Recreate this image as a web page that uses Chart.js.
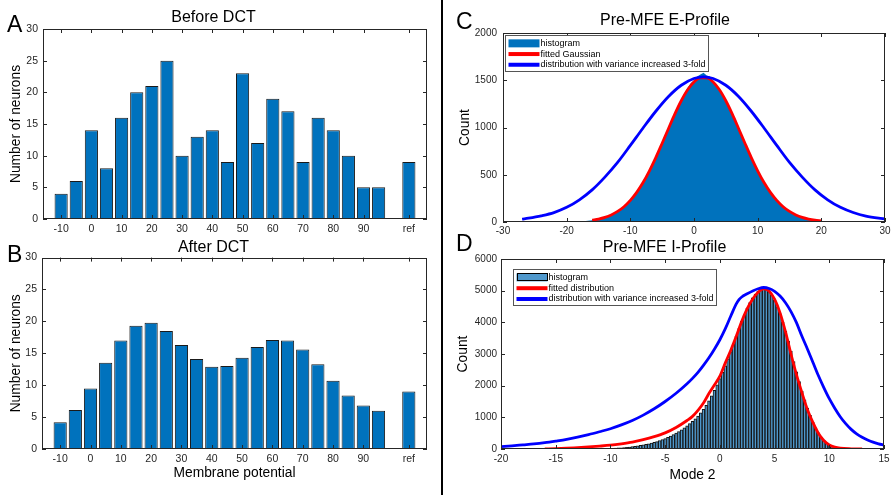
<!DOCTYPE html>
<html>
<head>
<meta charset="utf-8">
<title>Membrane potential and Pre-MFE profiles</title>
<script src="https://cdn.jsdelivr.net/npm/chart.js@4.4.1/dist/chart.umd.min.js"></script>
<style>
  html, body { margin: 0; padding: 0; background: #fff; }
  #figure { position: relative; width: 891px; height: 495px; overflow: hidden; background: #fff; font-family: "Liberation Sans", Arial, sans-serif; }
  #figure canvas { position: absolute; }
  .panel-letter { position: absolute; font-size: 23px; line-height: 1; color: #000; }
  #divider { position: absolute; left: 441px; top: 0; width: 2px; height: 495px; background: #000; }
</style>
</head>
<body>
<div id="figure">
  <canvas id="chart-before" width="440" height="242" style="left:0;top:0"></canvas>
  <canvas id="chart-after" width="440" height="259" style="left:0;top:236px"></canvas>
  <canvas id="chart-eprofile" width="446" height="245" style="left:445px;top:0"></canvas>
  <canvas id="chart-iprofile" width="446" height="259" style="left:445px;top:236px"></canvas>
  <div id="divider"></div>
  <div class="panel-letter" style="left:7px;top:13px">A</div>
  <div class="panel-letter" style="left:7px;top:243px">B</div>
  <div class="panel-letter" style="left:456px;top:10px">C</div>
  <div class="panel-letter" style="left:456px;top:232px">D</div>
</div>
<script>
// A / B: neurons per membrane-potential bin (last bin is "ref")
const membraneBins = [-10, -5, 0, 5, 10, 15, 20, 25, 30, 35, 40, 45, 50, 55, 60, 65, 70, 75, 80, 85, 90, 95, 100, 105];
const beforeCounts = [4, 6, 14, 8, 16, 20, 21, 25, 10, 13, 14, 9, 23, 12, 19, 17, 9, 16, 14, 10, 5, 5, 0, 9];
const afterCounts = [4.2, 6.1, 9.5, 13.5, 17, 19.3, 19.8, 18.5, 16.3, 14.1, 12.9, 13, 14.3, 16, 17.1, 17, 15.6, 13.3, 10.7, 8.4, 6.8, 6, 0, 9];
const membraneTicks = [-10, 0, 10, 20, 30, 40, 50, 60, 70, 80, 90, 105];
const membraneTickLabels = ['-10', '0', '10', '20', '30', '40', '50', '60', '70', '80', '90', 'ref'];

// C: Pre-MFE E-Profile
const histEBins = [-19, -18, -17, -16, -15, -14, -13, -12, -11, -10, -9, -8, -7, -6, -5, -4, -3, -2, -1, -0.5,
  0, 0.5, 1, 1.5, 2, 2.5, 3, 4, 5, 6, 7, 8, 9, 10, 11, 12, 13, 14, 15, 16, 17, 18, 19, 20, 21, 22, 23, 24, 25];
const histECounts = [4, 6, 10, 18, 30, 50, 78, 115, 165, 232, 318, 425, 548, 690, 845, 1000, 1160, 1300, 1420, 1470,
  1500, 1540, 1560, 1580, 1550, 1540, 1490, 1400, 1290, 1150, 1000, 840, 690, 545, 420, 315, 230, 160, 112, 74,
  48, 30, 18, 11, 7, 4, 3, 2, 1];
const fitEX = [-16, -15, -14, -13, -12, -11, -10, -9, -8, -7, -6, -5, -4, -3, -2, -1, 0, 1, 2, 3, 4, 5, 6, 7, 8, 9,
  10, 11, 12, 13, 14, 15, 16, 17, 18, 19, 20];
const fitECounts = [19, 31, 49, 75, 112, 162, 229, 314, 418, 542, 682, 834, 990, 1144, 1283, 1399, 1481, 1525, 1525,
  1481, 1399, 1283, 1144, 990, 834, 682, 542, 418, 314, 229, 162, 112, 75, 49, 31, 19, 12];
const wideEX = [-27, -26, -24, -22, -20, -18, -16, -14, -12, -10, -8, -6, -4, -2, 0, 1.5, 3, 5, 7, 9, 11, 13, 15, 17,
  19, 21, 23, 25, 27, 29, 30];
const wideECounts = [31, 41, 66, 100, 155, 235, 340, 475, 630, 810, 995, 1172, 1328, 1447, 1518, 1535, 1518, 1447,
  1328, 1172, 995, 810, 630, 475, 340, 235, 155, 100, 62, 40, 33];

// D: Pre-MFE I-Profile (histogram bins 0.25 wide, first centre at -12)
const histIStart = -12;
const histIWidth = 0.25;
const histICounts = [
  5, 6, 7, 8, 10, 12, 14, 17, 20, 24,
  29, 34, 40, 47, 55, 64, 74, 85, 98, 112,
  128, 145, 165, 186, 210, 236, 265, 296, 330, 367,
  408, 452, 500, 552, 608, 668, 732, 800, 875, 955,
  1040, 1140, 1250, 1380, 1520, 1680, 1850, 2030, 2220, 2420,
  2630, 2850, 3080, 3320, 3560, 3800, 4030, 4240, 4440, 4620,
  4770, 4890, 4980, 5040, 5060, 5040, 4970, 4850, 4700, 4500,
  4270, 4010, 3720, 3410, 3090, 2760, 2440, 2130, 1830, 1550,
  1290, 1060, 850, 670, 510, 380, 275, 195, 135, 92,
  62, 42, 28, 18, 11, 7, 4];
const fitIX = [-16, -15, -14, -13, -12, -11, -10, -9, -8, -7, -6, -5, -4, -3, -2.5, -2, -1.5, -1, -0.5, 0, 0.5, 1,
  1.5, 2, 2.5, 3, 3.5, 4, 4.5, 5, 5.5, 6, 6.5, 7, 7.5, 8, 8.5, 9, 9.5, 10, 10.5, 11, 12, 13];
const fitICounts = [0, 10, 25, 45, 65, 90, 120, 165, 220, 295, 390, 510, 680, 900, 1030, 1220, 1450, 1750, 2020,
  2300, 2720, 3120, 3560, 4030, 4430, 4740, 4950, 5060, 4990, 4730, 4300, 3700, 3000, 2350, 1780, 1250, 840, 500,
  270, 130, 60, 25, 5, 0];
const wideIX = [-20, -19, -18, -17, -16, -15, -14, -13, -12, -11, -10, -9, -8, -7, -6, -5, -4, -3, -2.5, -2, -1.5,
  -1, -0.5, 0, 0.5, 1, 1.5, 1.75, 2, 2.5, 3, 3.5, 4, 4.5, 5, 5.5, 6, 6.5, 7, 7.5, 8, 8.5, 9, 9.5, 10, 10.5, 11,
  11.5, 12, 12.5, 13, 13.5, 14, 14.5, 15];
const wideICounts = [75, 100, 130, 160, 200, 250, 305, 375, 455, 545, 640, 760, 900, 1070, 1270, 1500, 1760, 2060,
  2230, 2420, 2640, 2880, 3150, 3450, 3800, 4200, 4580, 4720, 4800, 4900, 4990, 5060, 5100, 5070, 4980, 4830,
  4620, 4340, 3990, 3560, 3160, 2740, 2320, 1940, 1590, 1290, 1020, 800, 620, 480, 370, 285, 215, 165, 125];

const FONT = '"Liberation Sans", Arial, Helvetica, sans-serif';
Chart.defaults.font.family = FONT;
Chart.defaults.color = '#262626';

function points(xs, ys) {
  return xs.map((x, i) => ({ x, y: ys[i] }));
}

// MATLAB-style box with inward ticks on all four sides
const matlabBox = {
  id: 'matlabBox',
  afterDatasetsDraw(chart) {
    const { ctx, chartArea: a, scales: { x, y } } = chart;
    const len = 4;
    ctx.save();
    ctx.strokeStyle = '#262626';
    ctx.lineWidth = 1;
    ctx.beginPath();
    x.ticks.forEach(t => {
      const px = Math.round(x.getPixelForValue(t.value)) + 0.5;
      ctx.moveTo(px, a.bottom); ctx.lineTo(px, a.bottom - len);
      ctx.moveTo(px, a.top); ctx.lineTo(px, a.top + len);
    });
    y.ticks.forEach(t => {
      const py = Math.round(y.getPixelForValue(t.value)) + 0.5;
      ctx.moveTo(a.left, py); ctx.lineTo(a.left + len, py);
      ctx.moveTo(a.right, py); ctx.lineTo(a.right - len, py);
    });
    ctx.stroke();
    ctx.strokeRect(Math.round(a.left) + 0.5, Math.round(a.top) + 0.5, Math.round(a.width) - 1, Math.round(a.height) - 1);
    ctx.restore();
  }
};

// boxed legend drawn inside the plot area, labels taken from the datasets
const boxLegend = {
  id: 'boxLegend',
  afterDraw(chart, args, opts) {
    if (!opts || !opts.show) return;
    const { ctx, chartArea } = chart;
    const datasets = chart.data.datasets;
    ctx.save();
    ctx.font = `${opts.fontSize}px ${FONT}`;
    const textWidth = Math.max(...datasets.map(ds => ctx.measureText(ds.label).width));
    const left = Math.round(chartArea.left + opts.left) + 0.5;
    const top = Math.round(chartArea.top + opts.top) + 0.5;
    const width = Math.round(textWidth + 38);
    const height = Math.round(datasets.length * opts.rowHeight + 4);
    ctx.fillStyle = '#fff';
    ctx.fillRect(left, top, width, height);
    ctx.strokeStyle = '#555';
    ctx.lineWidth = 1;
    ctx.strokeRect(left, top, width, height);
    datasets.forEach((ds, i) => {
      const cy = top + 2.5 + opts.rowHeight * (i + 0.5);
      const sx = left + 3;
      if (ds.type === 'bar' || ds.fill) {
        ctx.fillStyle = ds.backgroundColor;
        ctx.fillRect(sx, cy - 4, 31, 8);
        if (ds.borderWidth) {
          ctx.strokeStyle = '#000';
          ctx.lineWidth = 1;
          ctx.strokeRect(Math.round(sx) + 0.5, Math.round(cy - 4) + 0.5, 30, 7);
        }
      } else {
        ctx.strokeStyle = ds.borderColor;
        ctx.lineWidth = 4;
        ctx.beginPath();
        ctx.moveTo(sx, cy);
        ctx.lineTo(sx + 31, cy);
        ctx.stroke();
      }
      ctx.fillStyle = '#000';
      ctx.textAlign = 'left';
      ctx.textBaseline = 'middle';
      ctx.fillText(ds.label, left + 35, cy);
    });
    ctx.restore();
  }
};

function panelTitle(text, top, bottom) {
  return { display: true, text, color: '#000', font: { size: 16, weight: 'normal' }, padding: { top, bottom } };
}

function xAxis(o) {
  const axis = {
    type: 'linear', position: 'bottom', min: o.min, max: o.max, offset: false,
    grid: { display: false, drawTicks: false }, border: { display: false },
    ticks: {
      stepSize: o.step, padding: o.pad, autoSkip: false, maxRotation: 0,
      font: { size: o.fontSize }, color: '#262626',
      callback: v => String(v)
    },
    afterFit: s => { s.height = o.height; s.paddingLeft = 0; s.paddingRight = 0; },
    title: { display: false }
  };
  if (o.tickValues) {
    axis.afterBuildTicks = s => { s.ticks = o.tickValues.map(v => ({ value: v })); };
    axis.ticks.callback = v => o.tickLabels[o.tickValues.indexOf(v)];
  }
  if (o.title) {
    axis.title = { display: true, text: o.title, color: '#000', font: { size: 13.8 }, padding: { top: 0, bottom: o.titleBottom } };
  }
  return axis;
}

function yAxis(o) {
  return {
    type: 'linear', min: 0, max: o.max,
    grid: { display: false, drawTicks: false }, border: { display: false },
    ticks: { stepSize: o.step, padding: o.pad, font: { size: o.fontSize }, color: '#262626', callback: v => String(v) },
    afterFit: s => { s.width = o.width; s.paddingTop = 0; s.paddingBottom = 0; },
    title: { display: true, text: o.title, color: '#000', font: { size: 13.8 }, padding: { top: o.titleTop, bottom: 0 } }
  };
}

function neuronChart(id, counts, title, titlePad, xOpts, yWidth) {
  return new Chart(document.getElementById(id), {
    type: 'bar',
    data: {
      datasets: [{
        label: title,
        data: points(membraneBins, counts),
        backgroundColor: '#0072BD',
        borderColor: '#1a1a1a',
        borderWidth: 1,
        borderSkipped: false,
        barPercentage: 0.87,
        categoryPercentage: 1
      }]
    },
    options: {
      responsive: false, animation: false, events: [],
      layout: { padding: { top: 0, left: 0, right: 13, bottom: 0 } },
      plugins: { legend: { display: false }, tooltip: { enabled: false }, title: panelTitle(title, titlePad[0], titlePad[1]) },
      scales: {
        x: xAxis(Object.assign({ min: -16, max: 111, pad: 4, fontSize: 10.5, tickValues: membraneTicks, tickLabels: membraneTickLabels }, xOpts)),
        y: yAxis({ max: 30, step: 5, width: yWidth, pad: 5, fontSize: 10.5, title: 'Number of neurons', titleTop: 7.7 })
      }
    },
    plugins: [matlabBox]
  });
}

neuronChart('chart-before', beforeCounts, 'Before DCT', [7.9, 1.9], { height: 23 }, 43);
neuronChart('chart-after', afterCounts, 'After DCT', [2.4, 0], { height: 46, title: 'Membrane potential', titleBottom: 13.7 }, 42);

function curve(label, xs, ys, color, order) {
  return {
    type: 'line', label, data: points(xs, ys), borderColor: color, backgroundColor: color,
    borderWidth: 2.8, pointRadius: 0, cubicInterpolationMode: 'monotone', fill: false, order
  };
}

new Chart(document.getElementById('chart-eprofile'), {
  type: 'line',
  data: {
    datasets: [
      { type: 'line', label: 'histogram', data: points(histEBins, histECounts), backgroundColor: '#0072BD',
        borderColor: '#0072BD', borderWidth: 0, pointRadius: 0, tension: 0, fill: 'origin', order: 3 },
      curve('fitted Gaussian', fitEX, fitECounts, '#ff0000', 2),
      curve('distribution with variance increased 3-fold', wideEX, wideECounts, '#0000ff', 1)
    ]
  },
  options: {
    responsive: false, animation: false, events: [],
    layout: { padding: { top: 0, left: 0, right: 6, bottom: 0 } },
    plugins: {
      legend: { display: false }, tooltip: { enabled: false },
      title: panelTitle('Pre-MFE E-Profile', 11.4, 2.4),
      boxLegend: { show: true, left: 2, top: 2, fontSize: 9, rowHeight: 10.7 }
    },
    scales: {
      x: xAxis({ min: -30, max: 30, step: 10, height: 23, pad: 3, fontSize: 10 }),
      y: yAxis({ max: 2000, step: 500, width: 58, pad: 6, fontSize: 10, title: 'Count', titleTop: 11.7 })
    }
  },
  plugins: [matlabBox, boxLegend]
});

new Chart(document.getElementById('chart-iprofile'), {
  type: 'line',
  data: {
    datasets: [
      { type: 'bar', label: 'histogram', data: histICounts.map((c, i) => ({ x: histIStart + i * histIWidth, y: c })),
        backgroundColor: '#4f98cc', borderColor: '#141414', borderWidth: 1, barPercentage: 1, categoryPercentage: 1, order: 3 },
      curve('fitted distribution', fitIX, fitICounts, '#ff0000', 2),
      curve('distribution with variance increased 3-fold', wideIX, wideICounts, '#0000ff', 1)
    ]
  },
  options: {
    responsive: false, animation: false, events: [],
    layout: { padding: { top: 0, left: 0, right: 7, bottom: 0 } },
    plugins: {
      legend: { display: false }, tooltip: { enabled: false },
      title: panelTitle('Pre-MFE I-Profile', 2.4, 1.4),
      boxLegend: { show: true, left: 12, top: 10, fontSize: 9, rowHeight: 10.8 }
    },
    scales: {
      x: xAxis({ min: -20, max: 15, step: 5, height: 46, pad: 4, fontSize: 10, title: 'Mode 2', titleBottom: 11.7 }),
      y: yAxis({ max: 6000, step: 1000, width: 56, pad: 4, fontSize: 10, title: 'Count', titleTop: 9.7 })
    }
  },
  plugins: [matlabBox, boxLegend]
});
</script>
</body>
</html>
